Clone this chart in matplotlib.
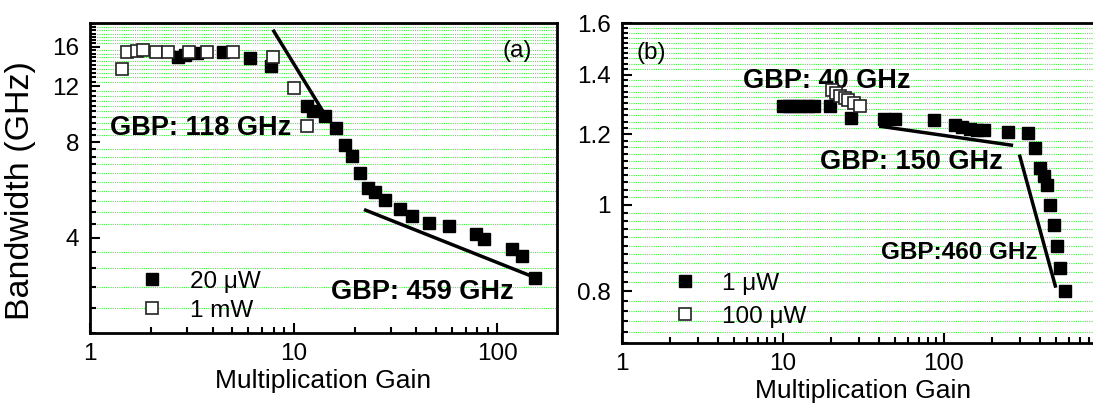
import numpy as np
import matplotlib
matplotlib.use("Agg")
from matplotlib import pyplot as plt
from matplotlib.ticker import FixedLocator, FixedFormatter, NullFormatter, LogLocator

plt.rcParams['font.family'] = ['Liberation Sans', 'DejaVu Sans']

# panel (a): bandwidth vs gain
a_gain_20uW = [2.72, 2.93, 3.35, 4.51, 6.1, 7.78, 11.6, 12.4, 14.2, 16.1, 18.0, 19.4,
               21.2, 23.2, 25.2, 28.1, 33.5, 38.4, 46.2, 58.2, 78.8, 86.1, 118, 132, 153]
a_bw_20uW = [14.85, 15.1, 15.3, 15.4, 14.7, 13.9, 10.4, 10.05, 9.65, 8.86, 7.86, 7.22,
             6.40, 5.75, 5.56, 5.27, 4.92, 4.69, 4.43, 4.35, 4.11, 3.97, 3.69, 3.49, 2.99]
a_gain_1mW = [1.43, 1.52, 1.70, 1.83, 2.12, 2.42, 3.05, 3.76, 5.05, 7.94, 10.1, 11.7]
a_bw_1mW = [13.6, 15.4, 15.5, 15.6, 15.4, 15.4, 15.4, 15.4, 15.4, 14.85, 11.86, 9.0]
a_fit1_x = [8.0, 14.5]
a_fit1_y = [17.9, 9.6]
a_fit2_x = [22.6, 150]
a_fit2_y = [4.88, 3.01]

# panel (b)
b_gain_1uW = [10.1, 11.0, 12.0, 13.1, 14.3, 15.6, 19.7, 26.7, 42.8, 50.2, 87.7, 118.5,
              130.5, 147, 162, 179, 251, 336, 370, 398, 418, 439, 460, 483, 507, 532, 567]
b_bw_1uW = [1.290, 1.290, 1.290, 1.290, 1.290, 1.290, 1.291, 1.251, 1.249, 1.249, 1.246,
            1.230, 1.223, 1.217, 1.215, 1.213, 1.208, 1.205, 1.159, 1.100, 1.077, 1.052,
            1.000, 0.950, 0.899, 0.850, 0.800]
b_gain_100uW = [20.2, 21.4, 22.8, 24.3, 25.7, 27.7, 30.5]
b_bw_100uW = [1.344, 1.335, 1.326, 1.318, 1.310, 1.301, 1.291]
b_fit1_x = [40.8, 264]
b_fit1_y = [1.225, 1.167]
b_fit2_x = [298, 495]
b_fit2_y = [1.134, 0.811]

a_yticks = [4, 8, 12, 16]
b_yticks = [0.8, 1.0, 1.2, 1.4, 1.6]
b_yticklabels = ['0.8', '1', '1.2', '1.4', '1.6']

W, H = 1093, 404
fig = plt.figure(figsize=(W / 100, H / 100), dpi=100)

grid_color = '#44ee44'


def gain_fmt(v, p):
    # the 1000 label falls outside the cropped figure
    return '%g' % v if v < 1000 else ''


def style_axes(ax, minor_y):
    ax.set_xscale('log')
    ax.set_yscale('log')
    for s in ax.spines.values():
        s.set_linewidth(2)
    ax.xaxis.set_major_locator(LogLocator(base=10, numticks=10))
    ax.xaxis.set_minor_locator(LogLocator(base=10, subs=np.arange(2, 10), numticks=10))
    ax.xaxis.set_minor_formatter(NullFormatter())
    ax.xaxis.set_major_formatter(plt.FuncFormatter(gain_fmt))
    ax.yaxis.set_minor_locator(FixedLocator(minor_y))
    ax.yaxis.set_minor_formatter(NullFormatter())
    ax.tick_params(which='both', direction='in', top=False, right=False, width=1.5,
                   labelsize=17.5)
    ax.tick_params(axis='x', pad=7)
    ax.tick_params(axis='y', pad=8)
    ax.tick_params(which='major', length=7)
    ax.tick_params(which='minor', length=4)
    ax.grid(True, which='minor', axis='y', color=grid_color, linestyle=(0, (1, 1)), lw=0.8)
    ax.set_axisbelow(True)
    ax.set_xlabel('Multiplication Gain', fontsize=19, labelpad=3)


# ---- (a)
ax1 = fig.add_axes([90 / W, 1 - 333 / H, 467 / W, 310 / H])
style_axes(ax1, np.round(np.arange(2.0, 19.01, 0.4), 2))
ax1.set_xlim(1, 197)
ax1.set_ylim(2, 19)
ax1.yaxis.set_major_locator(FixedLocator(a_yticks))
ax1.yaxis.set_major_formatter(FixedFormatter([str(t) for t in a_yticks]))
ax1.set_ylabel('Bandwidth (GHz)', fontsize=24.5)
ax1.yaxis.set_label_coords(-0.115, 0.458)

ax1.plot(a_fit1_x, a_fit1_y, color='black', lw=2.5, zorder=2)
ax1.plot(a_fit2_x, a_fit2_y, color='black', lw=2.5, zorder=2)
h1, = ax1.plot(a_gain_20uW, a_bw_20uW, 's', color='black', ms=9.3, mec='black',
               zorder=3, label='20 μW')
h2, = ax1.plot(a_gain_1mW, a_bw_1mW, 's', mfc='white', mec='#222222', mew=1.2, ms=9.3,
               zorder=4, label='1 mW')
ax1.text(1.25, 8.86, 'GBP: 118 GHz', fontsize=19.5, fontweight='bold', va='center')
ax1.text(15.3, 2.7, 'GBP: 459 GHz', fontsize=19.5, fontweight='bold', va='center')
ax1.text(106, 15.5, '(a)', fontsize=17.5, va='center')
ax1.legend(handles=[h1, h2], loc='lower left', bbox_to_anchor=(0.06, -0.035),
           frameon=False, fontsize=17.5, handlelength=1.0, handletextpad=1.05,
           labelspacing=0.3, numpoints=1)

# ---- (b)
ax2 = fig.add_axes([621.5 / W, 1 - 343 / H, 483 / W, 320 / H])
style_axes(ax2, np.round(np.arange(0.70, 1.601, 0.02), 2))
ax2.set_xlim(1, 1000)
ax2.set_ylim(0.7, 1.6)
ax2.yaxis.set_major_locator(FixedLocator(b_yticks))
ax2.yaxis.set_major_formatter(FixedFormatter(b_yticklabels))
ax2.spines['right'].set_visible(False)

ax2.plot(b_fit1_x, b_fit1_y, color='black', lw=2.5, zorder=2)
ax2.plot(b_fit2_x, b_fit2_y, color='black', lw=2.5, zorder=2)
g1, = ax2.plot(b_gain_1uW, b_bw_1uW, 's', color='black', ms=9.3, zorder=3, label='1 μW')
g2, = ax2.plot(b_gain_100uW, b_bw_100uW, 's', mfc='white', mec='#222222', mew=1.2,
               ms=9.3, zorder=4, label='100 μW')
ax2.text(5.7, 1.377, 'GBP: 40 GHz', fontsize=19.5, fontweight='bold', va='center')
ax2.text(17.1, 1.117, 'GBP: 150 GHz', fontsize=19.5, fontweight='bold', va='center')
ax2.text(40.8, 0.885, 'GBP:460 GHz', fontsize=17.5, fontweight='bold', va='center')
ax2.text(1.24, 1.48, '(b)', fontsize=17.5, va='center')
ax2.legend(handles=[g1, g2], loc='lower left', bbox_to_anchor=(0.06, -0.02),
           frameon=False, fontsize=17.5, handlelength=1.0, handletextpad=1.05,
           labelspacing=0.45, numpoints=1)

fig.savefig('out.png', dpi=100)
